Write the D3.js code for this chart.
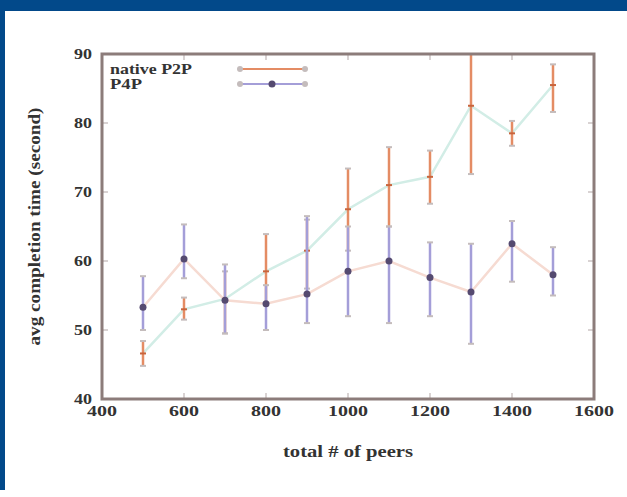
<!DOCTYPE html>
<html lang="en">
<head>
<meta charset="UTF-8">
<title>avg completion time vs total # of peers</title>
<script src="https://d3js.org/d3.v7.min.js"></script>
<style>
    body { margin: 0; background: #fff; }
    svg { display: block; }
    text { font-family: "Liberation Serif", "DejaVu Serif", serif; fill: #333; font-weight: bold; }
</style>
</head>
<body>
<svg width="627" height="497"></svg>
<script>
    // values
    const peers = [500, 600, 700, 800, 900, 1000, 1100, 1200, 1300, 1400, 1500];

    const nativeMean = [46.6, 53.0, 54.5, 58.5, 61.5, 67.5, 71.0, 72.2, 82.5, 78.5, 85.5];
    const nativeLow  = [44.8, 51.5, 49.5, 53.8, 56.0, 61.5, 65.0, 68.3, 72.6, 76.7, 81.6];
    const nativeHigh = [48.4, 54.7, 58.5, 63.9, 66.0, 73.4, 76.5, 76.0, 93.0, 80.3, 88.5];

    const p4pMean = [53.3, 60.3, 54.3, 53.8, 55.2, 58.5, 60.0, 57.6, 55.5, 62.5, 58.0];
    const p4pLow  = [50.0, 57.5, 49.5, 50.0, 51.0, 52.0, 51.0, 52.0, 48.0, 57.0, 55.0];
    const p4pHigh = [57.8, 65.3, 59.5, 56.5, 66.5, 65.0, 65.0, 62.7, 62.5, 65.8, 62.0];

    const xTicks = [400, 600, 800, 1000, 1200, 1400, 1600];
    const yTicks = [40, 50, 60, 70, 80, 90];

    const svg = d3.select("svg");
    const W = 627, H = 497;

    // blue slide frame
    svg.append("rect").attr("x", 0).attr("y", 0).attr("width", W).attr("height", 11).attr("fill", "#02498a");
    svg.append("rect").attr("x", 0).attr("y", 0).attr("width", 5).attr("height", 490).attr("fill", "#02498a");

    const m = { left: 102, right: 594, top: 54, bottom: 399 };
    const x = d3.scaleLinear().domain([400, 1600]).range([m.left, m.right]);
    const y = d3.scaleLinear().domain([40, 90]).range([m.bottom, m.top]);

    svg.append("defs").append("clipPath").attr("id", "plot")
        .append("rect").attr("x", m.left).attr("y", m.top)
        .attr("width", m.right - m.left).attr("height", m.bottom - m.top);

    const series = [
        { name: "native P2P", mean: nativeMean, low: nativeLow, high: nativeHigh,
          line: "#d2ede6", bar: "#e48c64", mark: "#c8643c" },
        { name: "P4P", mean: p4pMean, low: p4pLow, high: p4pHigh,
          line: "#f6dbd2", bar: "#a49ed8", mark: "#554a70" }
    ];

    const plot = svg.append("g").attr("clip-path", "url(#plot)");

    series.forEach(s => {
        const pts = peers.map((p, i) => ({ p, m: s.mean[i], lo: s.low[i], hi: s.high[i] }));
        plot.append("path")
            .datum(pts)
            .attr("fill", "none")
            .attr("stroke", s.line)
            .attr("stroke-width", 2.5)
            .attr("d", d3.line().x(d => x(d.p)).y(d => y(d.m)));

        const g = plot.append("g").selectAll("g").data(pts).enter().append("g");
        g.append("line")
            .attr("x1", d => x(d.p)).attr("x2", d => x(d.p))
            .attr("y1", d => y(d.lo)).attr("y2", d => y(d.hi))
            .attr("stroke", s.bar).attr("stroke-width", 2.5);
        g.selectAll(".cap").data(d => [d.lo, d.hi].map(v => ({ p: d.p, v })))
            .enter().append("line")
            .attr("x1", d => x(d.p) - 3).attr("x2", d => x(d.p) + 3)
            .attr("y1", d => y(d.v)).attr("y2", d => y(d.v))
            .attr("stroke", "#c4bcbc").attr("stroke-width", 2);
        if (s.name === "P4P") {
            g.append("circle")
                .attr("cx", d => x(d.p)).attr("cy", d => y(d.m)).attr("r", 3.5)
                .attr("fill", s.mark);
        } else {
            g.append("line")
                .attr("x1", d => x(d.p) - 3).attr("x2", d => x(d.p) + 3)
                .attr("y1", d => y(d.m)).attr("y2", d => y(d.m))
                .attr("stroke", s.mark).attr("stroke-width", 2);
        }
    });

    // frame and inside ticks
    const axisColor = "#8c7c7a";
    const ticks = svg.append("g").attr("stroke", "#c0b6b6").attr("stroke-width", 1.2);
    xTicks.forEach(t => {
        ticks.append("line").attr("x1", x(t)).attr("x2", x(t)).attr("y1", m.bottom).attr("y2", m.bottom - 6);
        ticks.append("line").attr("x1", x(t)).attr("x2", x(t)).attr("y1", m.top).attr("y2", m.top + 6);
    });
    yTicks.forEach(t => {
        ticks.append("line").attr("x1", m.left).attr("x2", m.left + 6).attr("y1", y(t)).attr("y2", y(t));
        ticks.append("line").attr("x1", m.right).attr("x2", m.right - 6).attr("y1", y(t)).attr("y2", y(t));
    });
    svg.append("rect")
        .attr("x", m.left).attr("y", m.top)
        .attr("width", m.right - m.left).attr("height", m.bottom - m.top)
        .attr("fill", "none").attr("stroke", axisColor).attr("stroke-width", 3);

    // tick labels
    svg.append("g").selectAll("text").data(xTicks).enter().append("text")
        .attr("x", d => x(d)).attr("y", m.bottom + 17)
        .attr("text-anchor", "middle")
        .attr("font-size", 15)
        .attr("textLength", d => String(d).length * 10)
        .attr("lengthAdjust", "spacingAndGlyphs")
        .text(d => d);
    svg.append("g").selectAll("text").data(yTicks).enter().append("text")
        .attr("x", m.left - 10).attr("y", d => y(d) + 5)
        .attr("text-anchor", "end")
        .attr("font-size", 15)
        .attr("textLength", 18)
        .attr("lengthAdjust", "spacingAndGlyphs")
        .text(d => d);

    // axis titles
    svg.append("text")
        .attr("x", (m.left + m.right) / 2).attr("y", 457)
        .attr("text-anchor", "middle")
        .attr("font-size", 16)
        .attr("textLength", 130)
        .attr("lengthAdjust", "spacingAndGlyphs")
        .text("total # of peers");
    svg.append("text")
        .attr("transform", `translate(40, ${(m.top + m.bottom) / 2}) rotate(-90)`)
        .attr("text-anchor", "middle")
        .attr("font-size", 16)
        .attr("textLength", 238)
        .attr("lengthAdjust", "spacingAndGlyphs")
        .text("avg completion time (second)");

    // legend
    const leg = svg.append("g");
    series.forEach((s, i) => {
        const ly = 69 + i * 15;
        leg.append("text").attr("x", 110).attr("y", ly + 5)
            .attr("font-size", 15)
            .attr("textLength", s.name === "P4P" ? 32 : 82)
            .attr("lengthAdjust", "spacingAndGlyphs")
            .text(s.name);
        leg.append("line").attr("x1", 240).attr("x2", 305).attr("y1", ly).attr("y2", ly)
            .attr("stroke", s.bar).attr("stroke-width", 2);
        leg.append("circle").attr("cx", 240).attr("cy", ly).attr("r", 3).attr("fill", "#c4bcbc");
        leg.append("circle").attr("cx", 305).attr("cy", ly).attr("r", 3).attr("fill", "#c4bcbc");
        if (s.name === "P4P") {
            leg.append("circle").attr("cx", 272).attr("cy", ly).attr("r", 3.5).attr("fill", s.mark);
        }
    });
</script>
</body>
</html>
